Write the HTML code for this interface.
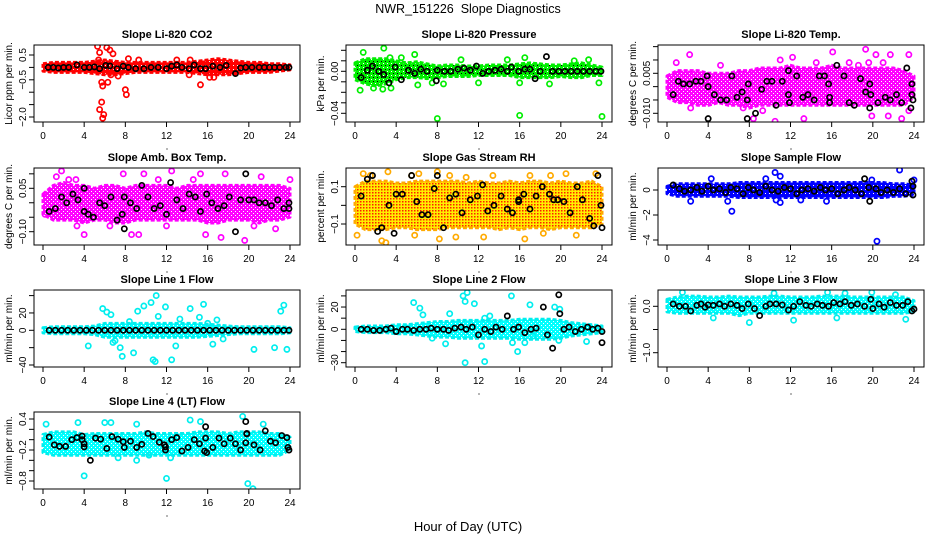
<!DOCTYPE html>
<html><head><meta charset="utf-8"><style>
html,body{margin:0;padding:0;background:#fff;}
svg{display:block;font-family:"Liberation Sans",Arial,sans-serif;}
</style></head><body>
<svg id="chart" width="936" height="540" viewBox="0 0 936 540">
<defs>
<pattern id="rhpat" width="3" height="3" patternUnits="userSpaceOnUse"><rect width="3" height="3" fill="#ffee00"/><rect x="0" y="0" width="1.5" height="1.5" fill="#ff2000"/></pattern>
<pattern id="cpat" width="4" height="4" patternUnits="userSpaceOnUse"><rect width="4" height="4" fill="#00ffff"/><rect x="1" y="1" width="1" height="1" fill="#ffffff"/><rect x="3" y="3" width="1" height="1" fill="#ffffff"/></pattern>
<pattern id="mpat" width="4" height="4" patternUnits="userSpaceOnUse"><rect width="4" height="4" fill="#ff00ff"/><rect x="1" y="1" width="1" height="1" fill="#ffffff"/><rect x="3" y="3" width="1" height="1" fill="#ffffff"/></pattern>
<pattern id="gpat" width="4" height="4" patternUnits="userSpaceOnUse"><rect width="4" height="4" fill="#00ee00"/><rect x="1" y="1" width="1" height="1" fill="#000000"/><rect x="3" y="3" width="1" height="1" fill="#ffffff"/></pattern>
<pattern id="rpat" width="4" height="4" patternUnits="userSpaceOnUse"><rect width="4" height="4" fill="#ff0000"/><rect x="1" y="1" width="1" height="1" fill="#ffffff"/></pattern>
<pattern id="bpat" width="4" height="4" patternUnits="userSpaceOnUse"><rect width="4" height="4" fill="#0000ff"/><rect x="1" y="1" width="1" height="1" fill="#ffffff"/></pattern>
</defs>
<text x="468" y="13" text-anchor="middle" font-size="12.5" style="white-space:pre">NWR_151226  Slope Diagnostics</text>
<text x="468" y="531" text-anchor="middle" font-size="13">Hour of Day (UTC)</text>
</svg>
<script>
const bandHours=[0,1,2,3,4,5,6,7,8,9,10,11,12,13,14,15,16,17,18,19,20,21,22,23,24];
const xTicks=[0,4,8,12,16,20,24];

const co2Hi=[0.15,0.2,0.2,0.2,0.2,0.25,0.3,0.25,0.2,0.2,0.2,0.2,0.2,0.2,0.2,0.25,0.3,0.35,0.3,0.25,0.2,0.2,0.15,0.15,0.1];
const co2Lo=[-0.15,-0.2,-0.2,-0.2,-0.2,-0.25,-0.3,-0.3,-0.25,-0.2,-0.2,-0.2,-0.2,-0.2,-0.2,-0.25,-0.3,-0.3,-0.3,-0.25,-0.2,-0.2,-0.2,-0.15,-0.1];
const co2Pts=[[5.3,0.85],[5.5,0.6],[6.2,0.8],[6.5,0.7],[6.8,0.55],[5.7,-0.6],[5.8,-0.75],[5.7,-1.4],[5.5,-1.7],[5.9,-1.9],[5.8,-2.05],[6.3,-0.6],[8,-0.9],[8.1,-1.1],[8.3,0.35],[13,0.3],[15.3,-0.7],[16.2,-0.4],[16.6,-0.4],[14.2,-0.3],[7.3,-0.35],[9.3,0.3],[14.3,0.3],[5.4,0.3],[6.6,-0.3]];
const co2Blk=[[0.5,0],[1,0],[1.5,-0.02],[2,0],[2.5,0],[3.3,0.1],[4,0],[4.5,0],[5,0.02],[5.5,-0.05],[6.1,0.08],[6.5,0.06],[7.2,-0.05],[7.8,0.05],[8.3,0],[9,-0.05],[9.8,-0.05],[10.5,0],[11.2,0],[12,-0.05],[12.5,0.05],[13,0.1],[13.5,0],[14.2,-0.05],[14.7,0.1],[15.3,-0.05],[15.8,-0.05],[16.5,0.05],[17.2,0],[17.8,0.08],[18.7,-0.25],[19.2,-0.02],[19.7,0],[20.3,0],[21,0],[21.5,0],[22,0],[22.5,0],[23,0],[23.6,0],[23.9,0]];

const presHi=[0.008,0.012,0.012,0.012,0.01,0.008,0.009,0.007,0.005,0.006,0.006,0.005,0.005,0.006,0.006,0.006,0.007,0.008,0.007,0.006,0.006,0.007,0.008,0.006,0.004];
const presLo=[-0.008,-0.012,-0.014,-0.012,-0.008,-0.006,-0.006,-0.007,-0.006,-0.005,-0.005,-0.005,-0.004,-0.004,-0.004,-0.004,-0.006,-0.006,-0.006,-0.006,-0.005,-0.006,-0.006,-0.004,-0.004];
const presPts=[[0.8,0.018],[2.8,0.022],[3.4,0.013],[0.5,-0.018],[8,-0.045],[16,-0.042],[24,-0.043],[6.1,-0.013],[12,-0.011],[16,-0.011],[3.5,-0.016],[1.8,-0.016],[2.7,-0.017],[4.5,0.013],[5.8,0.016],[10.3,0.011],[14.8,0.011],[16.5,0.013],[21.3,0.010],[22.7,0.011],[18.9,-0.012],[7.5,-0.011],[8.6,-0.012],[23.7,-0.011]];
const presBlk=[[0.6,-0.006],[1.2,0.001],[1.7,0.005],[2.3,0],[2.8,-0.003],[3.3,-0.011],[3.9,0.004],[4.5,-0.008],[5.2,0.001],[5.8,-0.002],[6.4,0.002],[7,0],[7.9,-0.009],[8,0.001],[8.7,0],[9.3,0],[10,0.002],[10.6,0.003],[11.2,0.001],[11.8,0.005],[12.4,-0.002],[13,0],[13.6,0.001],[14.2,0.002],[14.8,0],[15.2,0.004],[15.9,0],[16.5,0.002],[17,0.002],[17.5,-0.007],[18,0],[18.6,0.014],[19.2,0],[19.8,0],[20.4,0],[21,0],[21.6,0],[22.2,0],[22.8,0],[23.4,0],[23.9,0]];

const tempHi=[0.004,0.006,0.006,0.006,0.005,0.005,0.005,0.006,0.006,0.007,0.007,0.007,0.008,0.007,0.007,0.007,0.008,0.007,0.007,0.007,0.007,0.007,0.007,0.006,0.004];
const tempLo=[-0.004,-0.006,-0.006,-0.007,-0.007,-0.006,-0.007,-0.007,-0.008,-0.007,-0.007,-0.007,-0.007,-0.007,-0.007,-0.007,-0.007,-0.007,-0.007,-0.007,-0.007,-0.007,-0.007,-0.007,-0.004];
const tempPts=[[2.2,0.012],[12.4,0.019],[19.3,0.014],[23.5,0.012],[16.1,0.013],[20.3,0.012],[21.7,0.012],[10.5,-0.013],[8.4,-0.012],[13.3,-0.012],[22.8,-0.012],[2.3,-0.008],[7.4,-0.008],[9.3,-0.009],[19.9,-0.011],[21.5,-0.011],[23.5,-0.009],[0.9,0.009],[11,0.010],[12.2,0.011],[17.7,0.009],[18.6,0.008],[19.6,0.009],[21,0.009],[14.5,0.009],[5.2,0.008]];
const tempBlk=[[0.6,-0.003],[1.1,0.002],[1.6,0.001],[2.2,0.001],[2.8,0.002],[3.3,0.002],[3.9,0.004],[4,0.0],[4,-0.012],[4.6,-0.003],[5.2,-0.005],[5.8,-0.005],[6.3,0.004],[6.8,-0.004],[7.3,-0.002],[7.9,0.001],[7.8,-0.005],[7.8,-0.012],[8.6,-0.010],[9.2,-0.001],[9.7,0.002],[10.2,0.002],[10.6,-0.007],[11.2,0.002],[11.8,0.006],[11.8,-0.003],[11.9,-0.006],[12.6,0.004],[13.2,-0.004],[13.7,-0.003],[14.3,-0.005],[14.8,0.004],[15.3,0.004],[15.7,0.001],[15.8,-0.004],[15.8,-0.006],[16.5,0.008],[17.2,0.004],[17.7,-0.006],[18.2,-0.007],[18.8,0.003],[19.3,-0.002],[19.7,0.001],[19.8,-0.003],[19.7,-0.008],[20.5,-0.006],[21.2,-0.004],[21.7,-0.005],[22.3,-0.003],[22.8,-0.006],[23.3,0.007],[23.8,0.001],[23.8,-0.003],[23.9,-0.005],[23.7,-0.008]];

const ambHi=[0.03,0.06,0.07,0.06,0.06,0.05,0.06,0.06,0.05,0.06,0.06,0.06,0.06,0.05,0.06,0.06,0.06,0.06,0.06,0.06,0.06,0.06,0.06,0.06,0.05];
const ambLo=[-0.04,-0.06,-0.06,-0.06,-0.07,-0.06,-0.06,-0.07,-0.07,-0.06,-0.06,-0.06,-0.06,-0.06,-0.06,-0.06,-0.07,-0.07,-0.06,-0.06,-0.06,-0.07,-0.06,-0.06,-0.05];
const ambPts=[[1.3,0.09],[1.8,0.11],[2.5,0.08],[3.2,0.08],[7.8,0.10],[9.8,0.10],[11.2,0.08],[12.5,0.11],[14.6,0.08],[15.3,0.10],[17.7,0.10],[21.2,0.09],[24,0.08],[4,-0.11],[8.6,-0.11],[9.3,-0.11],[15.8,-0.11],[17.3,-0.12],[19.6,-0.13],[22.6,-0.09],[3.3,-0.08],[6.5,-0.08],[12,-0.08],[20.5,-0.08],[0.2,-0.04]];
const ambBlk=[[0.6,-0.03],[1.2,-0.02],[1.8,0.02],[2.3,0],[2.9,0.03],[3.4,0.01],[4,0.05],[4,-0.03],[4.4,-0.04],[4.9,-0.05],[5.5,0],[6,-0.01],[6.6,0.02],[7.2,-0.06],[7.7,-0.04],[7.9,0.02],[7.9,-0.09],[8.5,0],[9.1,-0.02],[9.6,0.06],[10.2,0.02],[10.8,-0.02],[11.4,-0.01],[12,-0.04],[12.4,0.07],[13,0.01],[13.6,-0.02],[14.2,0.03],[14.8,0.02],[15.3,-0.03],[15.9,0.03],[16.4,0],[17,-0.02],[17.6,-0.01],[18.1,0.02],[18.7,-0.10],[19.2,0.01],[19.7,0.10],[20,0.01],[20.5,0.01],[21,0],[21.6,0],[22.2,-0.01],[22.8,0.01],[23.4,-0.02],[23.9,0],[23.9,-0.02]];

const rhHi=[0.1,0.13,0.13,0.13,0.12,0.12,0.13,0.13,0.13,0.13,0.13,0.12,0.13,0.12,0.12,0.13,0.12,0.13,0.13,0.12,0.13,0.12,0.12,0.13,0.1];
const rhLo=[-0.1,-0.13,-0.13,-0.13,-0.12,-0.12,-0.13,-0.13,-0.13,-0.12,-0.12,-0.12,-0.12,-0.12,-0.13,-0.12,-0.13,-0.12,-0.12,-0.13,-0.12,-0.12,-0.12,-0.12,-0.1];
const rhPts=[[0.8,0.17],[1.5,0.16],[3.2,0.18],[5.5,0.16],[6.2,0.17],[8,0.18],[9.2,0.16],[10.8,0.15],[13.4,0.16],[17,0.16],[19,0.16],[20.5,0.17],[23.4,0.17],[0.2,-0.16],[3,-0.20],[2.6,-0.19],[5.8,-0.16],[8.2,-0.18],[9.8,-0.17],[12.5,-0.17],[18.3,-0.15],[21.5,-0.16],[16.5,-0.18]];
const rhBlk=[[0.6,0.05],[1.2,0.14],[1.7,0.16],[2.2,-0.14],[2.6,-0.12],[3.3,0],[3.8,-0.15],[4,0.06],[4.6,0.06],[5.5,0.16],[6,0.02],[6.5,-0.05],[7.1,-0.05],[7.7,0.09],[8,0.16],[8.6,-0.12],[9.2,0.04],[9.8,0.06],[10.4,-0.04],[11.2,0.03],[11.9,0.05],[12.4,0.11],[12.9,-0.03],[13.5,0],[14.2,0.05],[14.8,-0.02],[15.3,-0.04],[15.9,0.02],[15.9,0.03],[16.4,0.06],[17,-0.02],[17.6,0.05],[18.2,0.10],[18.9,0.06],[19.3,0.03],[19.7,0.03],[20.3,0.02],[20.9,-0.04],[21.6,0.10],[22.1,0.03],[22.8,-0.07],[23.2,-0.11],[23.6,0.16],[23.9,0],[24,-0.12]];

const sampHi=[0.3,0.5,0.5,0.5,0.5,0.5,0.5,0.6,0.6,0.6,0.6,0.6,0.6,0.6,0.6,0.6,0.6,0.6,0.6,0.6,0.6,0.6,0.5,0.5,0.4];
const sampLo=[-0.3,-0.5,-0.5,-0.5,-0.5,-0.5,-0.5,-0.6,-0.6,-0.6,-0.6,-0.6,-0.6,-0.6,-0.6,-0.6,-0.6,-0.6,-0.6,-0.6,-0.6,-0.6,-0.5,-0.5,-0.4];
const sampPts=[[6.3,-1.7],[5.9,-0.9],[20.4,-4.1],[22.6,1.6],[10.5,1.4],[11,1.1],[4.3,0.9],[11,-1.0],[10.6,-0.8],[13,-0.8],[9.6,0.9],[15.5,-0.9],[19.9,0.8],[24,0.8],[2.3,-0.9]];
const sampBlk=[[0.6,0.4],[1.2,0.1],[1.7,-0.1],[2.3,0],[2.9,0.2],[3.4,-0.1],[4,0.3],[4.5,0],[5.1,0.1],[5.7,-0.2],[6.2,0.2],[6.8,0.1],[7.4,-0.3],[7.9,0.2],[8.4,0],[9,-0.2],[9.6,0.3],[10.2,0],[10.8,-0.1],[11.4,0.2],[12,0.1],[12.6,-0.3],[13.1,0],[13.7,0.1],[14.3,-0.1],[14.9,0.2],[15.4,0],[16,0.1],[16.6,-0.3],[17.2,0],[17.7,0.2],[18.3,0],[18.9,-0.3],[19.2,0.9],[19.6,0.2],[19.7,-0.9],[20.3,0.1],[20.8,-0.2],[21.4,0],[22,-0.2],[22.6,0.1],[23.2,-0.3],[23.8,0.7],[23.9,0.3],[23.9,-0.4]];

const l1Hi=[3,4,4,4,4,5,8,8,8,8,8,8,8,8,8,8,7,6,5,4,4,4,4,4,3];
const l1Lo=[-3,-4,-4,-4,-4,-5,-8,-8,-8,-8,-8,-8,-8,-8,-8,-8,-7,-6,-5,-4,-4,-4,-4,-4,-3];
const l1Pts=[[5.8,25],[6.2,21],[6.6,18],[7,-12],[7.5,-20],[7.7,-30],[8.4,10],[8.8,-26],[9.2,22],[9.8,28],[10.5,32],[10.7,-34],[10.9,-36],[11,40],[11.2,16],[11.9,27],[12.5,-34],[12.9,-18],[13.3,13],[14.3,25],[15.2,15],[15.6,30],[16,8],[16.5,-16],[16.9,12],[17.5,-10],[4.4,-18],[20.5,-22],[22.5,-20],[23.1,22],[23.7,-22],[23.4,29],[6.8,-14]];
const l1Blk=[[0.6,0],[1.2,0],[1.8,0],[2.4,0],[3,0],[3.6,0],[4.2,0],[4.8,0],[5.4,0],[6,0],[6.6,0],[7.2,0],[7.8,0],[8.4,0],[9,0],[9.6,0],[10.2,0],[10.8,0],[11.4,0],[12,0],[12.6,0],[13.2,0],[13.8,0],[14.4,0],[15,0],[15.6,0],[16.2,0],[16.8,0],[17.4,0],[18,0],[18.6,0],[19.2,0],[19.8,0],[20.4,0],[21,0],[21.6,0],[22.2,0],[22.8,0],[23.4,0],[23.9,0]];

const l2Hi=[2,3,3,3,4,4,5,6,7,7,8,8,8,8,8,8,9,9,9,9,8,6,5,4,3];
const l2Lo=[-2,-3,-3,-3,-4,-4,-5,-6,-7,-7,-8,-8,-8,-8,-8,-8,-9,-9,-9,-9,-8,-6,-5,-4,-3];
const l2Pts=[[5.7,24],[6.3,19],[6.6,13],[9.2,14],[10.5,30],[10.7,25],[10.9,33],[11.6,23],[12.6,10],[13.1,12],[15.2,30],[17,22],[19.4,20],[19.9,18],[10.7,-30],[12.6,-29],[12.3,-15],[15.3,-12],[15.8,-20],[16.5,-12],[17.3,-6],[19.8,-10],[22.5,-11],[8.8,-13],[7.5,-8]];
const l2Blk=[[0.6,0],[1.2,0],[1.8,-1],[2.4,-1],[3,0],[3.5,1],[4,-2],[4.6,0],[5.1,0],[5.7,-1],[6.3,0],[6.9,0],[7.4,1],[8,0],[8.6,0],[9.1,-1],[9.7,1],[10.3,2],[10.8,0],[11.4,2],[12,-5],[12.6,0],[13.2,-2],[13.7,2],[14.3,0],[14.8,12],[15.4,0],[15.9,2],[16.5,-3],[17.1,0],[17.6,1],[18.3,20],[18.7,-5],[19.2,-17],[19.8,31],[19.9,14],[20.3,0],[20.8,2],[21.4,-2],[22,0],[22.6,2],[23.1,0],[23.6,1],[24,-2],[24,-12]];

const l3Hi=[0.15,0.2,0.22,0.22,0.2,0.2,0.22,0.2,0.2,0.2,0.22,0.22,0.2,0.2,0.2,0.22,0.22,0.22,0.2,0.2,0.2,0.2,0.2,0.2,0.12];
const l3Lo=[-0.12,-0.15,-0.15,-0.15,-0.15,-0.15,-0.15,-0.2,-0.15,-0.15,-0.15,-0.15,-0.15,-0.15,-0.15,-0.15,-0.15,-0.15,-0.15,-0.15,-0.15,-0.15,-0.15,-0.15,-0.12];
const l3Pts=[[20.4,-1.4],[8,-0.35],[12.3,-0.3],[4.5,-0.25],[16.5,-0.25],[1.5,0.3],[10.4,0.28],[15.6,0.3],[17.3,0.28],[19.9,0.3],[22.2,0.25],[23.2,-0.28]];
const l3Blk=[[0.6,0.05],[1.2,0],[1.8,0],[2.3,-0.1],[2.9,0.02],[3.3,0.05],[3.7,-0.02],[4,0.03],[4.5,0.02],[5.1,0.05],[5.6,0],[6.2,0.05],[6.8,0.02],[7.3,-0.05],[7.9,0.05],[8.5,-0.05],[9,-0.2],[9.6,0],[10,0.05],[10.6,0.05],[11.2,0.03],[11.8,-0.08],[12.3,0],[12.9,0.1],[13.5,0.02],[14,0],[14.6,0.05],[15.1,0.02],[15.7,0],[16.2,0.08],[16.8,0.05],[17.3,0.1],[17.9,0.02],[18.5,0.05],[19.2,0],[19.8,0.15],[20,-0.05],[20.6,0.05],[21.1,-0.02],[21.7,0.08],[22.3,0.02],[22.9,0.02],[23.4,0.1],[23.8,-0.1],[24,-0.06]];

const l4Hi=[0.1,0.15,0.15,0.15,0.1,0.12,0.12,0.12,0.12,0.12,0.15,0.12,0.12,0.12,0.12,0.15,0.15,0.15,0.12,0.15,0.15,0.15,0.12,0.12,0.05];
const l4Lo=[-0.25,-0.3,-0.3,-0.3,-0.3,-0.3,-0.3,-0.3,-0.3,-0.3,-0.3,-0.3,-0.3,-0.3,-0.3,-0.3,-0.3,-0.3,-0.3,-0.3,-0.3,-0.3,-0.3,-0.3,-0.2];
const l4Pts=[[4,-0.7],[12,-0.75],[19.9,-0.85],[20.4,-0.95],[19.4,0.45],[9.1,-0.4],[0.3,0.3],[3.4,0.33],[6,0.33],[6.6,0.33],[9.1,0.3],[14.3,0.38],[15.3,0.35],[21.4,0.3],[12.4,-0.35],[7.3,-0.35],[10.3,-0.3]];
const l4Blk=[[0.6,0.05],[1.1,-0.1],[1.6,-0.13],[2.2,-0.13],[2.8,0],[3.3,0.04],[3.8,0.07],[3.8,0],[4,-0.08],[4,-0.14],[4.6,-0.4],[5.1,0.03],[5.6,0.01],[6.2,-0.17],[6.7,0.06],[7.3,0.01],[7.8,-0.04],[7.9,-0.15],[8.5,-0.03],[9.1,-0.15],[9.6,-0.09],[10.2,0.12],[10.7,0.06],[11.3,-0.05],[11.8,-0.1],[11.9,-0.2],[11.9,-0.14],[12.5,0],[13,0.04],[13.5,-0.22],[14.1,-0.15],[14.7,0],[15.2,-0.08],[15.8,0.25],[15.8,0.03],[15.7,-0.22],[15.9,-0.25],[16.5,-0.15],[17.1,0.03],[17.6,-0.08],[18.2,0.03],[18.7,-0.08],[19.2,-0.2],[19.7,0.35],[19.8,0.12],[19.8,0.11],[19.7,-0.06],[20.5,-0.1],[21.1,-0.2],[21.6,0.17],[22.1,-0.03],[22.6,-0.06],[23.2,0.08],[23.7,0.04],[23.8,-0.15],[23.9,-0.2]];

const NS='http://www.w3.org/2000/svg';
const svg=document.getElementById('chart');
const colX0=[43,355,667];
const rowTop=[45,168,290,412];
const xW=247;
function el(tag,attrs,parent){const e=document.createElementNS(NS,tag);for(const k in attrs)e.setAttribute(k,attrs[k]);(parent||svg).appendChild(e);return e;}

const panels=[
 {key:'co2',title:'Slope Li-820 CO2',ylab:'Licor ppm per min.',r:0,c:0,hi:co2Hi,lo:co2Lo,pts:co2Pts,blk:co2Blk,col:'#ff0000',fill:'url(#rpat)',cal:[0.5,55,-2,117],ticks:[0.5,0,-0.5,-1,-1.5,-2],labels:[0.5,-0.5,-2],fmt:1},
 {key:'pressure',title:'Slope Li-820 Pressure',ylab:'kPa per min.',r:0,c:1,hi:presHi,lo:presLo,pts:presPts,blk:presBlk,col:'#00ee00',fill:'url(#gpat)',cal:[0,71.3,-0.04,113.3],ticks:[0.02,0.01,0,-0.01,-0.02,-0.03,-0.04],labels:[0,-0.04],fmt:2},
 {key:'temp',title:'Slope Li-820 Temp.',ylab:'degrees C per min.',r:0,c:2,hi:tempHi,lo:tempLo,pts:tempPts,blk:tempBlk,col:'#ff00ff',fill:'url(#mpat)',cal:[0.005,73.3,-0.01,113.3],ticks:[0.015,0.01,0.005,0,-0.005,-0.01],labels:[0.005,-0.01],fmt:3},
 {key:'ambtemp',title:'Slope Amb. Box Temp.',ylab:'degrees C per min.',r:1,c:0,hi:ambHi,lo:ambLo,pts:ambPts,blk:ambBlk,col:'#ff00ff',fill:'url(#mpat)',cal:[0.05,188.3,-0.1,231.7],ticks:[0.1,0.05,0,-0.05,-0.1],labels:[0.05,-0.1],fmt:2},
 {key:'rh',title:'Slope Gas Stream RH',ylab:'percent per min.',r:1,c:1,hi:rhHi,lo:rhLo,pts:rhPts,blk:rhBlk,col:'#ffaa00',fill:'url(#rhpat)',cal:[0.1,186.7,-0.1,224],ticks:[0.1,0,-0.1],labels:[0.1,-0.1],fmt:1},
 {key:'sampleflow',title:'Slope Sample Flow',ylab:'ml/min per min.',r:1,c:2,hi:sampHi,lo:sampLo,pts:sampPts,blk:sampBlk,col:'#0000ff',fill:'url(#bpat)',cal:[0,190,-4,240],ticks:[0,-2,-4],labels:[0,-2,-4],fmt:0},
 {key:'line1',title:'Slope Line 1 Flow',ylab:'ml/min per min.',r:2,c:0,hi:l1Hi,lo:l1Lo,pts:l1Pts,blk:l1Blk,col:'#00eeee',fill:'url(#cpat)',cal:[0,330.3,-40,365],ticks:[40,20,0,-20,-40],labels:[20,0,-40],fmt:0},
 {key:'line2',title:'Slope Line 2 Flow',ylab:'ml/min per min.',r:2,c:1,hi:l2Hi,lo:l2Lo,pts:l2Pts,blk:l2Blk,col:'#00eeee',fill:'url(#cpat)',cal:[0,329.3,-30,362.7],ticks:[30,20,10,0,-10,-20,-30],labels:[20,0,-30],fmt:0},
 {key:'line3',title:'Slope Line 3 Flow',ylab:'ml/min per min.',r:2,c:2,hi:l3Hi,lo:l3Lo,pts:l3Pts,blk:l3Blk,col:'#00eeee',fill:'url(#cpat)',cal:[0,306.3,-1,352.7],ticks:[0,-0.5,-1],labels:[0,-1],fmt:1},
 {key:'line4',title:'Slope Line 4 (LT) Flow',ylab:'ml/min per min.',r:3,c:0,hi:l4Hi,lo:l4Lo,pts:l4Pts,blk:l4Blk,col:'#00eeee',fill:'url(#cpat)',cal:[0.4,419,-0.8,481],ticks:[0.4,0.2,0,-0.2,-0.4,-0.6,-0.8],labels:[0.4,-0.2,-0.8],fmt:1}
];

function fmtNum(v,d){let s=v.toFixed(d);if(v<0)s='\u2212'+s.slice(1);return s;}

panels.forEach(p=>{
 const x0=colX0[p.c], top=rowTop[p.r], bot=top+77, left=x0-9, right=x0+xW+10;
 const xs=h=>x0+h*xW/24;
 const [v1,y1,v2,y2]=p.cal;
 const ys=v=>y1+(v-v1)*(y2-y1)/(v2-v1);
 const g=el('g',{});
 
 
 const cp=el('clipPath',{id:'clip-'+p.key},g);
 el('rect',{x:left,y:top,width:right-left,height:bot-top},cp);
 const t=el('text',{x:(left+right)/2,y:top-7,'text-anchor':'middle','font-size':'11','font-weight':'bold'},g);
 t.textContent=p.title;
 
 
 const plot=el('g',{'clip-path':'url(#clip-'+p.key+')'},g);
 let d='';
 bandHours.forEach((h,i)=>{d+=(i?'L':'M')+xs(h).toFixed(1)+','+ys(p.hi[i]).toFixed(1);});
 for(let i=bandHours.length-1;i>=0;i--)d+='L'+xs(bandHours[i]).toFixed(1)+','+ys(p.lo[i]).toFixed(1);
 const band=el('path',{d:d+'Z',fill:p.fill,stroke:p.col,'stroke-width':'3','stroke-linejoin':'round','stroke-dasharray':'4 2'},plot);
 
 
 p.pts.forEach(pt=>{
  const c=el('circle',{cx:xs(pt[0]),cy:ys(pt[1]),r:2.6,fill:'none',stroke:p.col,'stroke-width':'1.7'},plot);
  
  
 });
 p.blk.forEach(pt=>{
  const c=el('circle',{cx:xs(pt[0]),cy:ys(pt[1]),r:2.6,fill:'none',stroke:'#000','stroke-width':'1.7'},plot);
  
  
 });
 const box=el('rect',{x:left,y:top,width:right-left,height:bot-top,fill:'none',stroke:'#000','stroke-width':'1'},g);
 
 
 el('line',{x1:xs(0),x2:xs(24),y1:bot,y2:bot,stroke:'#000'},g);
 xTicks.forEach(h=>{
  el('line',{x1:xs(h),x2:xs(h),y1:bot,y2:bot+5,stroke:'#000'},g);
  const tl=el('text',{x:xs(h),y:bot+17,'text-anchor':'middle','font-size':'10'},g);
  tl.textContent=h;
  
  
 });
 el('circle',{cx:(left+right)/2,cy:bot+27,r:0.6,fill:'#000'},g);
 const tv=p.ticks;
 el('line',{x1:left,x2:left,y1:ys(tv[0]),y2:ys(tv[tv.length-1]),stroke:'#000'},g);
 tv.forEach(v=>{el('line',{x1:left-5,x2:left,y1:ys(v),y2:ys(v),stroke:'#000'},g);});
 p.labels.forEach(v=>{
  const yy=ys(v);
  const tl=el('text',{x:left-8,y:yy,'text-anchor':'middle','font-size':'10',transform:'rotate(-90 '+(left-8)+' '+yy+')'},g);
  tl.textContent=fmtNum(v,p.fmt);
  
  
 });
 const yl=el('text',{x:left-22,y:(top+bot)/2,'text-anchor':'middle','font-size':'10',transform:'rotate(-90 '+(left-22)+' '+((top+bot)/2)+')'},g);
 yl.textContent=p.ylab;
 
 
});
</script>
</body></html>
